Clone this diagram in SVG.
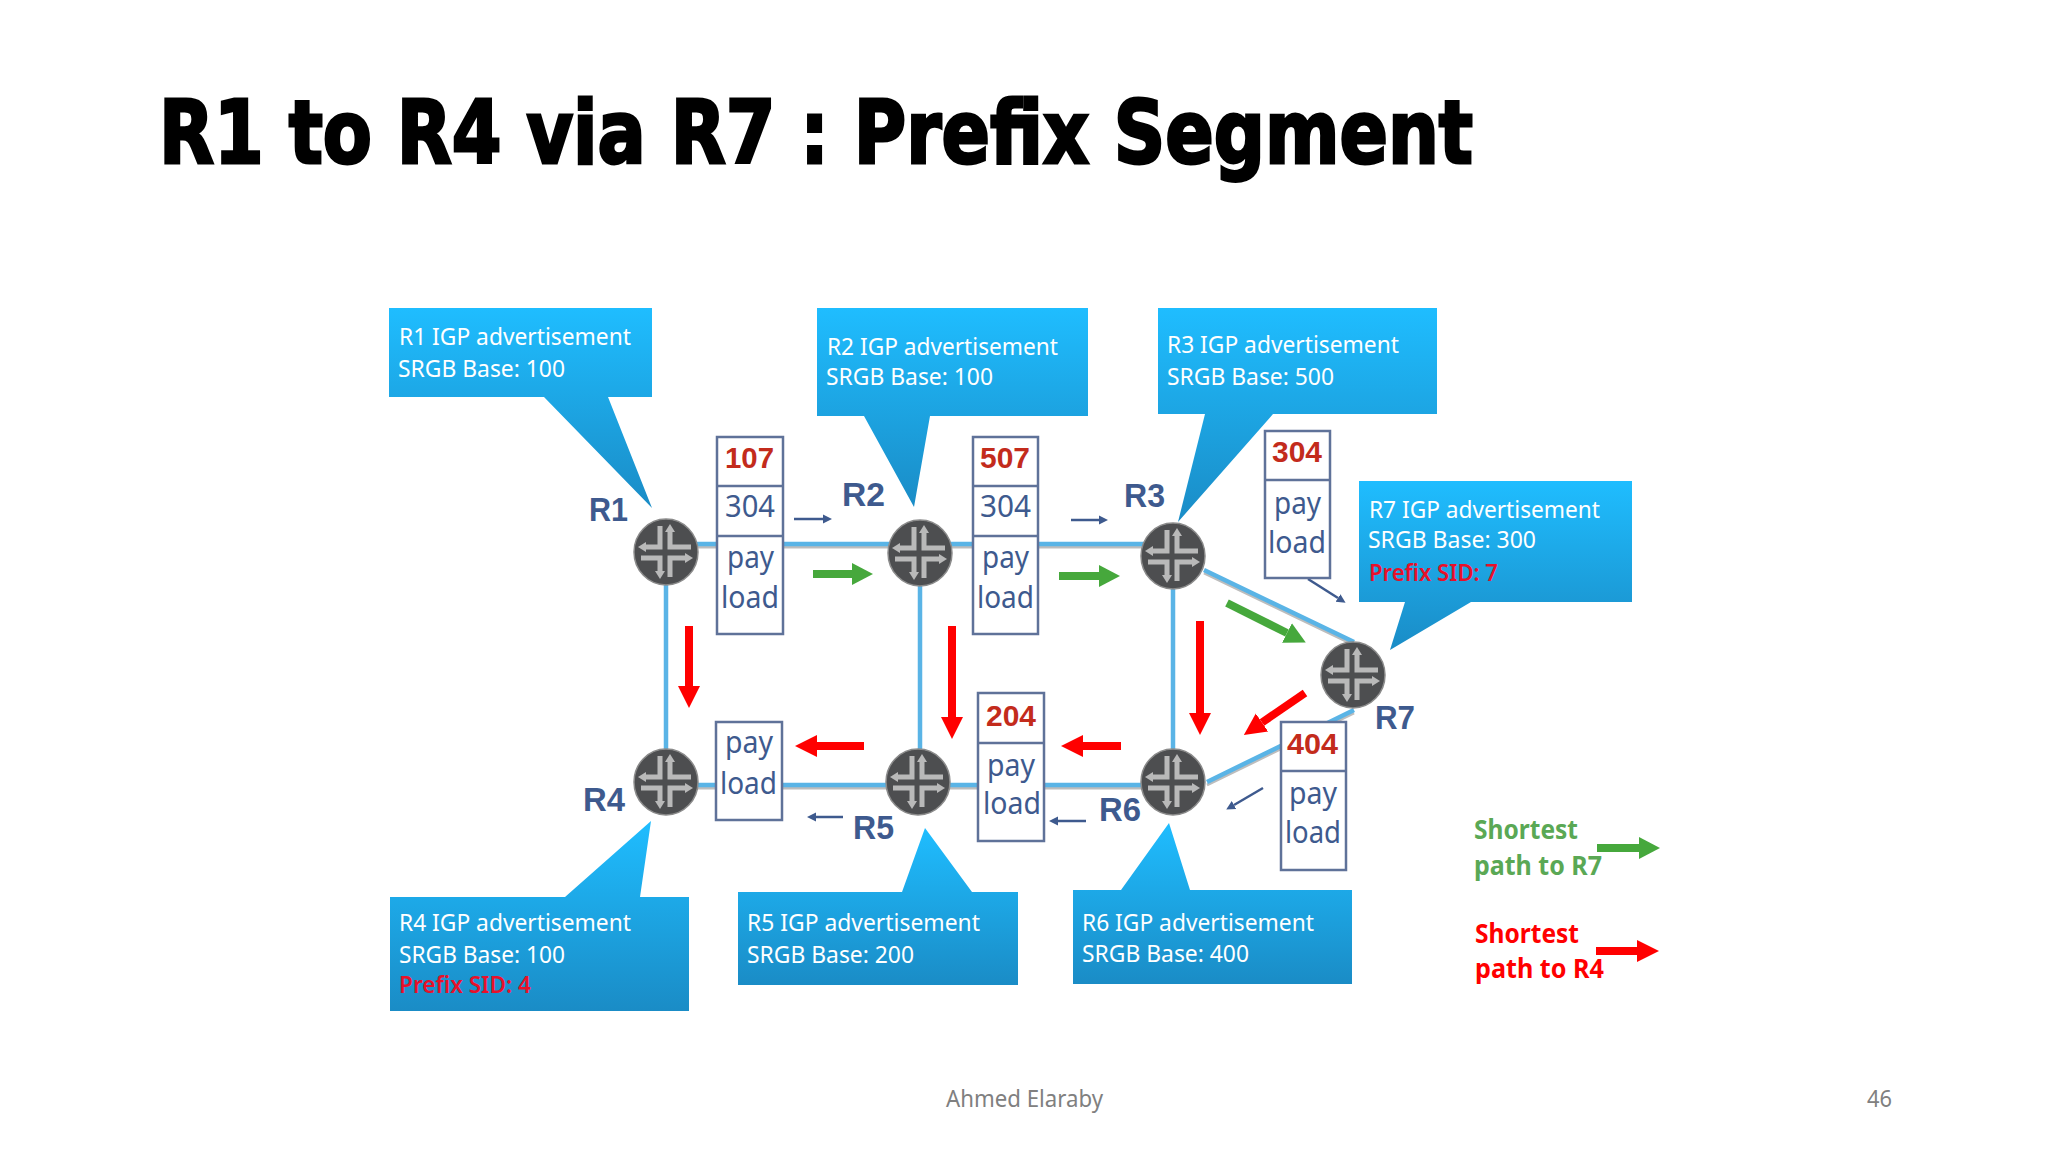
<svg xmlns="http://www.w3.org/2000/svg" xmlns:xlink="http://www.w3.org/1999/xlink" width="2048" height="1152" viewBox="0 0 2048 1152">
<style>
.title{font-family:"DejaVu Sans",sans-serif;font-weight:700;font-size:88px;fill:#000;stroke:#000;stroke-width:3px}
.ct{font-family:"Noto Sans","Open Sans",sans-serif;font-size:23px;fill:#fff}
.cr{font-family:"Noto Sans","Open Sans",sans-serif;font-size:23px;fill:#e8102a;font-weight:600}
.box{fill:#fff;stroke:#5f7299;stroke-width:2.5}
.div{stroke:#5f7299;stroke-width:2.5}
.pt{font-family:"Noto Sans","Open Sans",sans-serif;font-size:31px;fill:#3e5a8e}
.pr{font-family:"Liberation Sans",Arial,sans-serif;font-weight:700;font-size:30px;fill:#c32b1c}
.rl{font-family:"Liberation Sans",Arial,sans-serif;font-weight:700;font-size:34px;fill:#3e5a8e}
.link{stroke:#5ab4e6;stroke-width:4.5;fill:none}
.shadow{stroke:#bdbdbd;stroke-width:3;fill:none}
.thin{stroke:#3e5a8e;stroke-width:2.5;fill:none;marker-end:url(#mThin)}
.green{stroke:#46a83c;stroke-width:8;fill:none;marker-end:url(#mGreen)}
.red{stroke:#ff0000;stroke-width:8;fill:none;marker-end:url(#mRed)}
.lg{font-family:"Noto Sans","Open Sans",sans-serif;font-weight:700;font-size:26px;fill:#5aa855}
.lr{font-family:"Noto Sans","Open Sans",sans-serif;font-weight:700;font-size:26px;fill:#ff0000}
.foot{font-family:"Noto Sans","Open Sans",sans-serif;font-size:24px;fill:#808080}
.call{fill:url(#cg)}
</style>
<defs>
<linearGradient id="cg" x1="0" y1="0" x2="0" y2="1"><stop offset="0" stop-color="#1fbdff"/><stop offset="1" stop-color="#1a8cc6"/></linearGradient>
<linearGradient id="cgu" x1="0" y1="0" x2="0" y2="1"><stop offset="0" stop-color="#1fbdff"/><stop offset="1" stop-color="#1a8cc6"/></linearGradient>
<marker id="mThin" markerUnits="userSpaceOnUse" markerWidth="9" markerHeight="11" refX="0" refY="5.5" orient="auto"><path d="M0,1 L9,5.5 L0,10Z" fill="#3e5a8e"/></marker>
<marker id="mGreen" markerUnits="userSpaceOnUse" markerWidth="22" markerHeight="24" refX="0" refY="12" orient="auto"><path d="M0,1 L21,12 L0,23Z" fill="#46a83c"/></marker>
<marker id="mRed" markerUnits="userSpaceOnUse" markerWidth="23" markerHeight="24" refX="0" refY="12" orient="auto"><path d="M0,1 L22,12 L0,23Z" fill="#ff0000"/></marker>
<g id="router">
<ellipse cx="0" cy="0" rx="32" ry="33" fill="#4d4e50" stroke="#8b8b8b" stroke-width="1.5"/>
<g fill="none" stroke="#b9b9b9" stroke-width="5">
<path d="M-21,-5 H-6 V-26"/><path d="M4,-21 V-5 H25"/><path d="M-25,6 H-6 V20"/><path d="M4,25 V6 H20"/>
</g>
<g fill="#b9b9b9"><path d="M-28,-5 L-20,-10 V0Z"/><path d="M4,-28 L-1,-20 H9Z"/><path d="M-6,27 L-11,19 H-1Z"/><path d="M27,6 L19,1 V11Z"/></g>
</g>
</defs>
<rect width="2048" height="1152" fill="#fff"/>
<text class="title" x="159" y="163" textLength="1314" lengthAdjust="spacingAndGlyphs">R1 to R4 via R7 : Prefix Segment</text>

<g id="connectors">
<path class="shadow" d="M665,547 H1173 M666,788 H1173 M1204,573 L1354,645 M1207,785 L1354,713"/>
<path class="link" d="M665,544 H1173 M666,552 V782 M920,552 V782 M1173,556 V782 M666,785 H1173 M1204,570 L1354,642 M1207,782 L1354,710"/>
<path class="thin" d="M794,519 H823"/>
<path class="thin" d="M1071,520 H1099"/>
<path class="thin" d="M1308,579 L1338,598"/>
<path class="thin" d="M843,817 H816"/>
<path class="thin" d="M1086,821 H1058"/>
<path class="thin" d="M1263,788 L1234,805"/>
<path class="green" d="M813,574 H852"/>
<path class="green" d="M1059,576 H1099"/>
<path class="green" d="M1227,603 L1287,633"/>
<path class="red" d="M689,626 V686"/>
<path class="red" d="M952,626 V717"/>
<path class="red" d="M1200,621 V713"/>
<path class="red" d="M864,746 H817"/>
<path class="red" d="M1121,746 H1083"/>
<path class="red" d="M1305,693 L1262,722.5"/>
</g>

<g id="packet-107">
<rect class="box" x="717" y="437" width="66" height="197"/><path class="div" d="M717,486 H783 M717,536 H783"/>
<text class="pr" x="725" y="468" textLength="49" lengthAdjust="spacingAndGlyphs">107</text>
<text class="pt" x="725" y="517" textLength="50" lengthAdjust="spacingAndGlyphs">304</text>
<text class="pt" x="727" y="568" textLength="47" lengthAdjust="spacingAndGlyphs">pay</text>
<text class="pt" x="721" y="608" textLength="58" lengthAdjust="spacingAndGlyphs">load</text>
</g>
<g id="packet-507">
<rect class="box" x="973" y="437" width="65" height="197"/><path class="div" d="M973,486 H1038 M973,536 H1038"/>
<text class="pr" x="980" y="468" textLength="50" lengthAdjust="spacingAndGlyphs">507</text>
<text class="pt" x="980" y="517" textLength="51" lengthAdjust="spacingAndGlyphs">304</text>
<text class="pt" x="982" y="568" textLength="47" lengthAdjust="spacingAndGlyphs">pay</text>
<text class="pt" x="977" y="608" textLength="57" lengthAdjust="spacingAndGlyphs">load</text>
</g>
<g id="packet-304">
<rect class="box" x="1265" y="431" width="65" height="147"/><path class="div" d="M1265,480 H1330"/>
<text class="pr" x="1272" y="462" textLength="50" lengthAdjust="spacingAndGlyphs">304</text>
<text class="pt" x="1274" y="514" textLength="47" lengthAdjust="spacingAndGlyphs">pay</text>
<text class="pt" x="1268" y="553" textLength="58" lengthAdjust="spacingAndGlyphs">load</text>
</g>
<g id="packet-r4">
<rect class="box" x="716" y="722" width="66" height="98"/>
<text class="pt" x="725" y="753" textLength="48" lengthAdjust="spacingAndGlyphs">pay</text>
<text class="pt" x="720" y="794" textLength="57" lengthAdjust="spacingAndGlyphs">load</text>
</g>
<g id="packet-204">
<rect class="box" x="978" y="693" width="66" height="148"/><path class="div" d="M978,743 H1044"/>
<text class="pr" x="986" y="726" textLength="50" lengthAdjust="spacingAndGlyphs">204</text>
<text class="pt" x="987" y="776" textLength="48" lengthAdjust="spacingAndGlyphs">pay</text>
<text class="pt" x="983" y="814" textLength="58" lengthAdjust="spacingAndGlyphs">load</text>
</g>
<g id="packet-404">
<rect class="box" x="1281" y="722" width="65" height="148"/><path class="div" d="M1281,771 H1346"/>
<text class="pr" x="1287" y="754" textLength="51" lengthAdjust="spacingAndGlyphs">404</text>
<text class="pt" x="1289" y="804" textLength="48" lengthAdjust="spacingAndGlyphs">pay</text>
<text class="pt" x="1285" y="843" textLength="56" lengthAdjust="spacingAndGlyphs">load</text>
</g>

<g id="R1"><use xlink:href="#router" href="#router" x="666" y="552"/><text class="rl" x="589" y="521" textLength="39" lengthAdjust="spacingAndGlyphs">R1</text></g>
<g id="R2"><use xlink:href="#router" href="#router" x="920" y="553"/><text class="rl" x="842" y="506" textLength="43" lengthAdjust="spacingAndGlyphs">R2</text></g>
<g id="R3"><use xlink:href="#router" href="#router" x="1173" y="556"/><text class="rl" x="1124" y="507" textLength="41" lengthAdjust="spacingAndGlyphs">R3</text></g>
<g id="R4"><use xlink:href="#router" href="#router" x="666" y="782"/><text class="rl" x="583" y="811" textLength="42" lengthAdjust="spacingAndGlyphs">R4</text></g>
<g id="R5"><use xlink:href="#router" href="#router" x="918" y="782"/><text class="rl" x="853" y="839" textLength="41" lengthAdjust="spacingAndGlyphs">R5</text></g>
<g id="R6"><use xlink:href="#router" href="#router" x="1173" y="782"/><text class="rl" x="1099" y="821" textLength="42" lengthAdjust="spacingAndGlyphs">R6</text></g>
<g id="R7"><use xlink:href="#router" href="#router" x="1353" y="675"/><text class="rl" x="1375" y="729" textLength="40" lengthAdjust="spacingAndGlyphs">R7</text></g>

<g id="callout-R1">
<path class="call" d="M389,308 H652 V397 H608 L652,508 L544,397 H389Z"/>
<text class="ct" x="399" y="345" textLength="232" lengthAdjust="spacingAndGlyphs">R1 IGP advertisement</text>
<text class="ct" x="398" y="377" textLength="167" lengthAdjust="spacingAndGlyphs">SRGB Base: 100</text>
</g>
<g id="callout-R2">
<path class="call" d="M817,308 H1088 V416 H930 L914,507 L864,416 H817Z"/>
<text class="ct" x="827" y="355" textLength="231" lengthAdjust="spacingAndGlyphs">R2 IGP advertisement</text>
<text class="ct" x="826" y="385" textLength="167" lengthAdjust="spacingAndGlyphs">SRGB Base: 100</text>
</g>
<g id="callout-R3">
<path class="call" d="M1158,308 H1437 V414 H1273 L1178,522 L1205,414 H1158Z"/>
<text class="ct" x="1167" y="353" textLength="232" lengthAdjust="spacingAndGlyphs">R3 IGP advertisement</text>
<text class="ct" x="1167" y="385" textLength="167" lengthAdjust="spacingAndGlyphs">SRGB Base: 500</text>
</g>
<g id="callout-R7">
<path class="call" d="M1359,481 H1632 V602 H1471 L1390,650 L1405,602 H1359Z"/>
<text class="ct" x="1369" y="518" textLength="231" lengthAdjust="spacingAndGlyphs">R7 IGP advertisement</text>
<text class="ct" x="1368" y="548" textLength="168" lengthAdjust="spacingAndGlyphs">SRGB Base: 300</text>
<text class="cr" x="1369" y="581" textLength="129" lengthAdjust="spacingAndGlyphs">Prefix SID: 7</text>
</g>
<g id="callout-R4">
<path class="call" d="M390,897 H565 L651,821 L640,897 H689 V1011 H390Z"/>
<text class="ct" x="399" y="931" textLength="232" lengthAdjust="spacingAndGlyphs">R4 IGP advertisement</text>
<text class="ct" x="399" y="963" textLength="166" lengthAdjust="spacingAndGlyphs">SRGB Base: 100</text>
<text class="cr" x="399" y="993" textLength="132" lengthAdjust="spacingAndGlyphs">Prefix SID: 4</text>
</g>
<g id="callout-R5">
<path class="call" d="M738,892 H902 L925,828 L972,892 H1018 V985 H738Z"/>
<text class="ct" x="747" y="931" textLength="233" lengthAdjust="spacingAndGlyphs">R5 IGP advertisement</text>
<text class="ct" x="747" y="963" textLength="167" lengthAdjust="spacingAndGlyphs">SRGB Base: 200</text>
</g>
<g id="callout-R6">
<path class="call" d="M1073,890 H1121 L1169,823 L1190,890 H1352 V984 H1073Z"/>
<text class="ct" x="1082" y="931" textLength="232" lengthAdjust="spacingAndGlyphs">R6 IGP advertisement</text>
<text class="ct" x="1082" y="962" textLength="167" lengthAdjust="spacingAndGlyphs">SRGB Base: 400</text>
</g>

<g id="legend">
<text class="lg" x="1474" y="839" textLength="104" lengthAdjust="spacingAndGlyphs">Shortest</text>
<text class="lg" x="1474" y="875" textLength="128" lengthAdjust="spacingAndGlyphs">path to R7</text>
<path class="green" d="M1597,848 H1639"/>
<text class="lr" x="1475" y="943" textLength="104" lengthAdjust="spacingAndGlyphs">Shortest</text>
<text class="lr" x="1475" y="978" textLength="129" lengthAdjust="spacingAndGlyphs">path to R4</text>
<path class="red" d="M1596,951 H1637"/>
</g>
<text class="foot" x="946" y="1107" textLength="157" lengthAdjust="spacingAndGlyphs">Ahmed Elaraby</text>
<text class="foot" x="1867" y="1107" textLength="25" lengthAdjust="spacingAndGlyphs">46</text>
</svg>
